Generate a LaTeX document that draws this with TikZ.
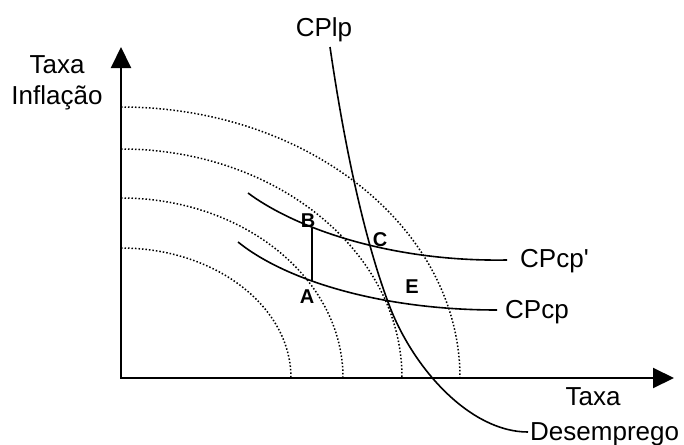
\documentclass[tikz,border=0pt]{standalone}
\usepackage{fontspec}
\setmainfont{Liberation Sans}
\usetikzlibrary{arrows.meta,positioning,calc}

\begin{document}
\begin{tikzpicture}[
x=1pt, y=-1pt,
axis/.style={
    line width=2pt,
    {Triangle[length=21pt,width=20pt]}-{Triangle[length=21pt,width=20pt]}
},
curve/.style={line width=1.6pt},
guide/.style={dotted, line width=1.5pt},
axislabel/.style={font=\fontsize{26}{31.5}\selectfont, inner sep=0pt, align=center},
point/.style={font=\fontsize{20}{23}\selectfont\bfseries, inner sep=0pt}
]
\useasboundingbox (0,0) rectangle (684,444);

% axes
\coordinate (O) at (121,378);
\coordinate (xend) at (674,378);
\coordinate (yend) at (121,47);
\draw[axis] (yend) -- (O) -- (xend);

% dotted indifference arcs
\foreach \a/\b in {170/130, 222/180, 281/229, 339/271}
    \draw[guide] (O) ++(0,-\b) arc[start angle=-90, end angle=0, x radius=\a, y radius=\b];

% labels
\node[axislabel] (ylabel) at (57,83) {Taxa\\Inflação};
\node[axislabel, anchor=base] (lplabel) at (324,37) {CPlp};
\node[axislabel, anchor=base west] (cpplabel) at (520,267) {CPcp\textquotesingle};
\node[axislabel, anchor=base west] (cplabel) at (505,318) {CPcp};
\node[axislabel, anchor=base] (xlabel1) at (593,405) {Taxa};
\node[axislabel, anchor=base west] (xlabel2) at (530,440) {Desemprego};

% curve ends
\coordinate (lp0) at (330,47);
\coordinate (lpE) at (388,302);
\coordinate (lp1) at (528,432);
\coordinate (cpp0) at (248,193);
\coordinate (cpp1) at (507,260);
\coordinate (cp0) at (238,242);
\coordinate (cp1) at (497,310);
\coordinate (ptB) at (312,228);
\coordinate (ptA) at (312,281);

\draw[curve] (lp0) .. controls (345,150) and (365,240) .. (lpE)
    .. controls (412,368) and (470,432) .. (lp1);
\draw[curve] (cpp0) .. controls (295,228) and (390,262) .. (cpp1);
\draw[curve] (cp0) .. controls (285,280) and (380,310) .. (cp1);
\draw[curve] (ptB) -- (ptA);

% points
\node[point] (B) at (308,221) {B};
\node[point] (A) at (307,297) {A};
\node[point] (C) at (380,240) {C};
\node[point] (E) at (412,287) {E};

\end{tikzpicture}
\end{document}
